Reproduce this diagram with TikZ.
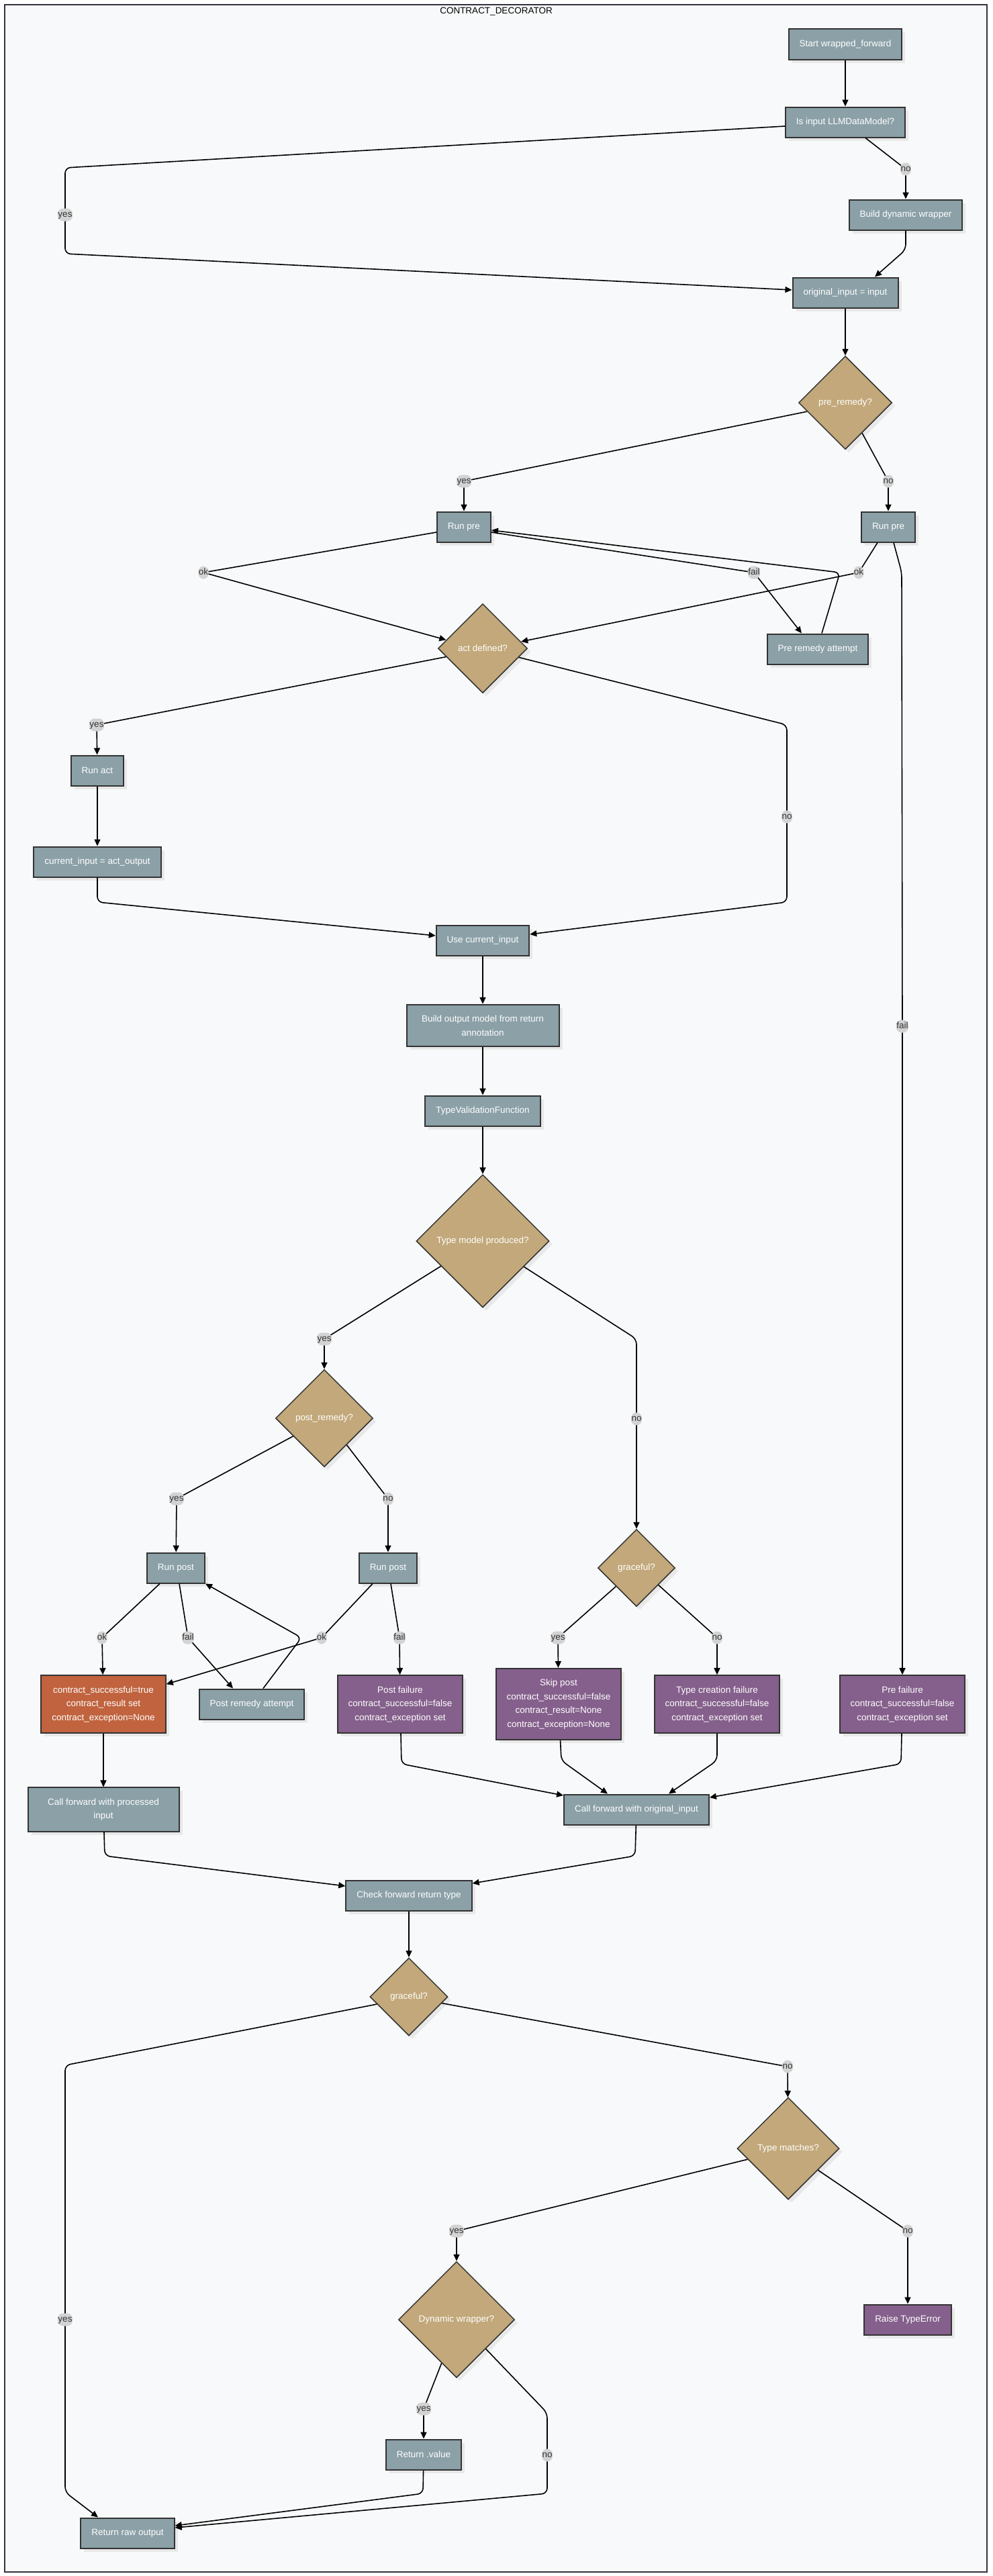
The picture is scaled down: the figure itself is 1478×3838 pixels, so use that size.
\documentclass[tikz,border=0pt]{standalone}
\usepackage{fontspec}
\setmainfont{Liberation Sans}
\usetikzlibrary{shapes.geometric,arrows.meta,calc,shadows}

\begin{document}
\begin{tikzpicture}[x=1pt, y=-1pt, >={Triangle[length=10pt,width=9pt]}]

\def\gap{16pt}
\def\boxh{45pt}
\def\shade{5pt}

% Colours
\definecolor{bgcolor}{RGB}{248,249,250}
\definecolor{framecolor}{RGB}{51,51,64}
\definecolor{stepcolor}{RGB}{139,160,167}
\definecolor{askcolor}{RGB}{194,168,122}
\definecolor{okcolor}{RGB}{192,99,62}
\definecolor{failcolor}{RGB}{133,96,140}
\definecolor{tagcolor}{RGB}{211,211,211}
\definecolor{inkcolor}{RGB}{51,51,51}
\colorlet{shadecolor}{black!9}

% Styles
\tikzstyle{textfont}=[font=\fontsize{13.5}{20.5}\selectfont]
\tikzstyle{shaded}=[drop shadow={shadow xshift=\shade, shadow yshift=-\shade, fill=shadecolor, opacity=1}]
\tikzstyle{stepbox}=[textfont, shaded, rectangle, draw=inkcolor, line width=2pt, fill=stepcolor, text=white, align=center, inner xsep=\gap, inner ysep=\gap, minimum height=\boxh]
\tikzstyle{okbox}=[stepbox, fill=okcolor]
\tikzstyle{failbox}=[stepbox, fill=failcolor]
\tikzstyle{askbox}=[textfont, shaded, diamond, aspect=1, inner sep=0pt, draw=inkcolor, line width=1.5pt, fill=askcolor, text=white]
\tikzstyle{link}=[->, line width=1.6pt, rounded corners=8pt]
\tikzstyle{tag}=[textfont, fill=tagcolor, text=inkcolor, inner xsep=0.5pt, inner ysep=3pt, text height=10pt, text depth=3pt]

\useasboundingbox (0,0) rectangle (1478,3838);

% Frame
\draw[framecolor, line width=1.5pt, fill=bgcolor] (7,7) rectangle (1470,3832);
\node[textfont] (title) at (739,17) {CONTRACT\_DECORATOR};

% Input
\node[stepbox] (start) at (1259,66) {Start wrapped\_forward};
\node[stepbox] (isllm) at (1259,182) {Is input LLMDataModel?};
\node[stepbox] (build) at (1349,320) {Build dynamic wrapper};
\node[stepbox] (orig) at (1259,436) {original\_input = input};

% Pre
\node[askbox, minimum size=139pt] (pre) at (1259,600) {pre\_remedy?};
\node[stepbox] (runpreA) at (691,785) {Run pre};
\node[stepbox] (runpreB) at (1323,785) {Run pre};
\node[askbox, minimum size=133pt] (act) at (719,966) {act defined?};
\node[stepbox] (preatt) at (1218,967) {Pre remedy attempt};

% Act
\node[stepbox] (runact) at (145,1148) {Run act};
\node[stepbox] (curin) at (145,1284) {current\_input = act\_output};
\node[stepbox] (usecur) at (719,1401) {Use current\_input};
\node[stepbox, minimum width=227pt] (buildout) at (719,1528) {Build output model from return\\annotation};
\node[stepbox] (typeval) at (719,1655) {TypeValidationFunction};

% Post
\node[askbox, minimum size=198pt] (typemod) at (719,1849) {Type model produced?};
\node[askbox, minimum size=145pt] (postrem) at (483,2113) {post\_remedy?};
\node[askbox, minimum size=115pt] (graceA) at (948,2336) {graceful?};
\node[stepbox] (runpostA) at (262,2336) {Run post};
\node[stepbox] (runpostB) at (578,2336) {Run post};
\node[okbox] (success) at (154,2539) {contract\_successful=true\\contract\_result set\\contract\_exception=None};
\node[stepbox] (postatt) at (375,2539) {Post remedy attempt};
\node[failbox] (postfail) at (596,2539) {Post failure\\contract\_successful=false\\contract\_exception set};
\node[failbox] (skip) at (832,2539) {Skip post\\contract\_successful=false\\contract\_result=None\\contract\_exception=None};
\node[failbox] (typefail) at (1068,2539) {Type creation failure\\contract\_successful=false\\contract\_exception set};
\node[failbox] (prefail) at (1344,2539) {Pre failure\\contract\_successful=false\\contract\_exception set};

% Forward
\node[stepbox, minimum width=225pt] (callproc) at (154,2696) {Call forward with processed\\input};
\node[stepbox] (callorig) at (948,2696) {Call forward with original\_input};
\node[stepbox] (checkret) at (609,2824) {Check forward return type};
\node[askbox, minimum size=116pt] (graceB) at (609,2975) {graceful?};
\node[askbox, minimum size=152pt] (typematch) at (1174,3201) {Type matches?};
\node[askbox, minimum size=173pt] (dynwrap) at (680,3456) {Dynamic wrapper?};
\node[failbox] (raise) at (1352,3456) {Raise TypeError};
\node[stepbox] (retval) at (631,3657) {Return .value};
\node[stepbox] (retraw) at (190,3774) {Return raw output};

% Links
\draw[link] (start) -- (isllm);
\draw[link] ($(isllm.west)+(0,6)$) -- (97,250) -- (97,320) node[tag]{yes} -- (97,378) -- ($(orig.west)+(0,-4)$);
\draw[link] ($(isllm.south)+(30,0)$) -- (1349,252) node[tag]{no} -- (build);
\draw[link] (build) -- (1349,372) -- ($(orig.north)+(44,0)$);
\draw[link] (orig) -- (pre);

\draw[link] (pre.193) -- (691,717) node[tag]{yes} -- (runpreA);
\draw[link] (pre.-61) -- (1323,717) node[tag]{no} -- (runpreB);
\draw[link] ($(runpreA.west)+(0,8)$) -- (303,853) node[tag]{ok} -- (act.167);
\draw[link] ($(runpreA.east)+(0,8)$) -- (1123,853) node[tag]{fail} -- ($(preatt.north)+(-24,0)$);
\draw[link] ($(preatt.north)+(6,0)$) -- (1251,853) -- ($(runpreA.east)+(0,5)$);
\draw[link] ($(runpreB.south)+(-16,0)$) -- (1279,853) node[tag]{ok} -- (act.10);
\draw[link] ($(runpreB.south)+(8,0)$) -- (1343,853) -- (1344,1529) node[tag]{fail} -- (prefail);

\draw[link] (act.193) -- (144,1080) node[tag]{yes} -- (runact);
\draw[link] (act.-14) -- (1172,1080) -- (1172,1217) node[tag]{no} -- (1172,1344) -- ($(usecur.east)+(0,-9)$);
\draw[link] (runact) -- (curin);
\draw[link] (curin) -- (145,1344) -- ($(usecur.west)+(0,-7)$);
\draw[link] (usecur) -- (buildout);
\draw[link] (buildout) -- (typeval);
\draw[link] (typeval) -- (typemod);

\draw[link] (typemod.211) -- (483,1995) node[tag]{yes} -- (postrem);
\draw[link] (typemod.-32) -- (948,1995) -- (948,2114) node[tag]{no} -- (graceA);
\draw[link] (postrem.210) -- (263,2233) node[tag]{yes} -- (runpostA);
\draw[link] (postrem.-50) -- (578,2233) node[tag]{no} -- (runpostB);
\draw[link] ($(runpostA.south)+(-24,0)$) -- (152,2440) node[tag]{ok} -- (success);
\draw[link] ($(runpostA.south)+(5,0)$) -- (280,2440) node[tag]{fail} -- ($(postatt.north)+(-28,0)$);
\draw[link] ($(postatt.north)+(17,0)$) -- (449,2440) -- (runpostA.south east);
\draw[link] ($(runpostB.south)+(-23,0)$) -- (479,2440) node[tag]{ok} -- ($(success.north east)+(0,14)$);
\draw[link] ($(runpostB.south)+(4,0)$) -- (595,2440) node[tag]{fail} -- (postfail);
\draw[link] (graceA.222) -- (831,2440) node[tag]{yes} -- (skip);
\draw[link] (graceA.-38) -- (1068,2440) node[tag]{no} -- (typefail);

\draw[link] (postfail) -- (598,2628) -- ($(callorig.west)+(0,-21)$);
\draw[link] (skip) -- (836,2623) -- ($(callorig.north)+(-43,0)$);
\draw[link] (typefail) -- (1068,2623) -- ($(callorig.north)+(48,0)$);
\draw[link] (prefail) -- (1342,2628) -- ($(callorig.east)+(0,-18)$);
\draw[link] (success) -- (callproc);
\draw[link] (callproc) -- (156,2765) -- ($(checkret.west)+(0,-14)$);
\draw[link] (callorig) -- (946,2765) -- ($(checkret.east)+(0,-18)$);
\draw[link] (checkret) -- (graceB);

\draw[link] (graceB.193) -- (97,3077) -- (97,3456) node[tag]{yes} -- (97,3713) -- ($(retraw.north)+(-44,0)$);
\draw[link] (graceB.-11) -- (1173,3079) node[tag]{no} -- (typematch);
\draw[link] (typematch.195) -- (680,3324) node[tag]{yes} -- (dynwrap);
\draw[link] (typematch.-36) -- (1352,3324) node[tag]{no} -- (raise);
\draw[link] (dynwrap.251) -- (631,3589) node[tag]{yes} -- (retval);
\draw[link] (dynwrap.-45) -- (815,3595) -- (815,3658) node[tag]{no} -- (815,3715) -- ($(retraw.east)+(0,-8)$);
\draw[link] (retval) -- (630,3715) -- ($(retraw.east)+(0,-11)$);

\end{tikzpicture}
\end{document}
